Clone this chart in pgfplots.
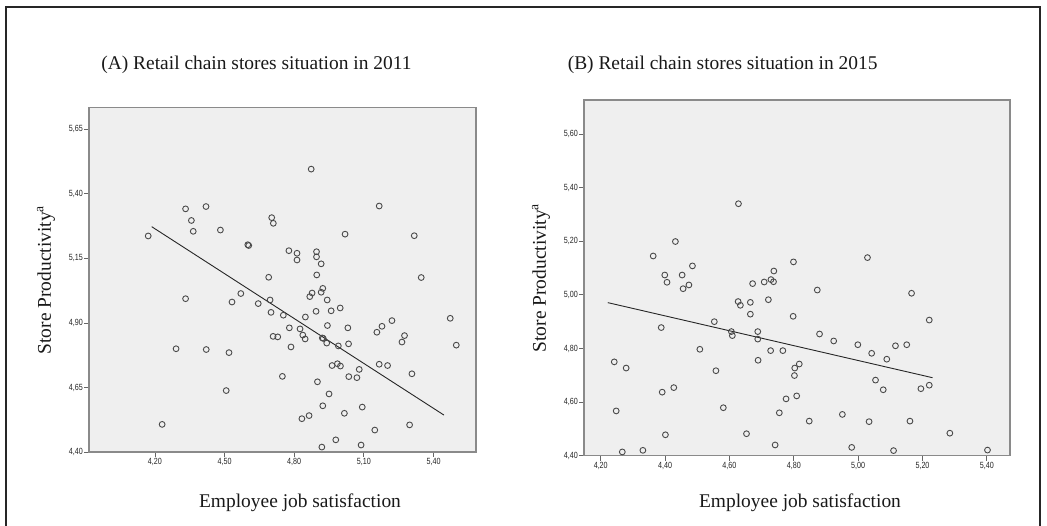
\documentclass[border=0pt]{standalone}
\usepackage{fontspec}
\setmainfont{Liberation Serif}
\newfontfamily\tickfont[FakeStretch=0.8]{Liberation Sans}
\usepackage{pgfplots}
\usepackage{pgfplotstable}
\pgfplotsset{compat=1.18}
\definecolor{bgc}{HTML}{EFEFEF}
\definecolor{framec}{HTML}{8A8A8A}
\definecolor{mk}{HTML}{4A4A4A}

\pgfplotstableread{
x y
4.873 5.496
4.332 5.342
4.420 5.351
4.357 5.297
4.365 5.255
4.482 5.260
4.171 5.237
4.703 5.308
4.710 5.286
4.604 5.200
4.600 5.203
5.166 5.353
5.019 5.244
5.317 5.238
4.777 5.180
4.812 5.170
4.812 5.144
4.896 5.176
4.896 5.156
4.916 5.129
4.897 5.086
4.690 5.077
4.332 4.994
4.570 5.014
4.532 4.981
4.645 4.975
4.696 4.989
4.700 4.941
4.753 4.930
4.867 5.002
4.877 5.016
4.894 4.945
4.848 4.923
4.779 4.881
4.825 4.877
4.837 4.853
4.847 4.838
4.709 4.848
4.729 4.846
4.786 4.807
4.291 4.800
4.421 4.797
4.519 4.785
4.749 4.693
4.900 4.672
4.507 4.638
4.231 4.507
4.833 4.529
4.864 4.541
4.919 4.419
4.916 5.019
4.923 5.034
4.942 4.989
4.959 4.947
4.998 4.958
4.943 4.890
5.031 4.881
4.921 4.842
4.925 4.840
4.940 4.822
4.990 4.811
5.034 4.819
5.156 4.864
5.178 4.887
5.221 4.909
5.264 4.826
5.275 4.851
5.347 5.076
5.472 4.918
5.498 4.814
4.963 4.735
4.986 4.742
4.999 4.733
5.080 4.720
5.035 4.692
5.070 4.688
5.166 4.740
5.202 4.735
5.307 4.703
4.950 4.625
4.923 4.579
5.016 4.550
5.093 4.574
5.297 4.505
5.147 4.485
4.979 4.447
5.088 4.427
}\dataA

\pgfplotstableread{
x y
4.628 5.340
4.432 5.199
4.363 5.145
4.485 5.108
4.399 5.074
4.406 5.047
4.453 5.074
4.474 5.037
4.456 5.023
4.799 5.123
4.738 5.089
4.672 5.042
4.708 5.048
4.729 5.057
4.737 5.049
4.627 4.975
4.634 4.961
4.665 4.972
4.721 4.982
4.665 4.928
4.798 4.920
4.553 4.900
4.388 4.878
4.606 4.863
4.609 4.848
4.688 4.863
4.688 4.835
4.508 4.797
4.728 4.792
4.766 4.792
4.242 4.750
4.279 4.727
4.689 4.756
4.558 4.717
4.803 4.727
4.817 4.742
4.802 4.699
4.391 4.637
4.427 4.654
4.809 4.623
4.776 4.612
4.581 4.579
4.248 4.567
4.755 4.560
4.401 4.478
4.653 4.482
4.742 4.440
4.267 4.414
4.331 4.420
5.029 5.139
4.873 5.018
5.166 5.006
5.221 4.906
4.880 4.854
4.924 4.828
4.999 4.814
5.042 4.782
5.089 4.760
5.116 4.810
5.151 4.814
5.054 4.682
5.078 4.646
5.195 4.650
5.221 4.663
4.848 4.529
4.951 4.554
5.034 4.527
5.161 4.529
5.285 4.484
4.980 4.431
5.110 4.419
5.130 4.399
5.402 4.421
}\dataB

\pgfplotsset{
  spss/.style={
    scale only axis,
    axis background/.style={fill=bgc},
    axis line style={draw=framec, line width=1.4bp},
    tick align=outside,
    xtick pos=bottom, ytick pos=left,
    major tick length=5bp,
    tick style={draw=black!60, line width=0.8bp},
    ticklabel style={font=\tickfont\fontsize{9}{9}\selectfont, text=black!85},
    /pgf/number format/fixed,
    /pgf/number format/fixed zerofill,
    /pgf/number format/precision=2,
    /pgf/number format/use comma,
    /pgf/number format/assume math mode=true,
    xticklabel style={inner sep=1bp},
    yticklabel style={inner sep=1bp},
  },
  dots/.style={only marks, mark=o, mark size=2.9bp, mark options={draw=mk, line width=0.9bp}},
  fitline/.style={no marks, draw=black!85, line width=0.9bp},
}

\begin{document}
\begin{tikzpicture}[x=1bp,y=1bp]
\path[use as bounding box] (0,0) rectangle (1047,526);
\draw[line width=1.3bp, black!85] (6bp,0bp) -- (6bp,519bp) -- (1040bp,519bp) -- (1040bp,0bp);

\node[anchor=base east, font=\fontsize{19.5}{20}\selectfont, text=black!90] at (415bp,456.7bp) {(A) Retail chain stores situation in 2011};
\node[anchor=base east, font=\fontsize{19.5}{20}\selectfont, text=black!90] at (881bp,456.7bp) {(B) Retail chain stores situation in 2015};

\node[font=\fontsize{19.5}{20}\selectfont, text=black!90] at (300bp,23bp) {Employee job satisfaction};
\node[font=\fontsize{19.5}{20}\selectfont, text=black!90] at (800bp,23bp) {Employee job satisfaction};

\node[rotate=90, font=\fontsize{19.5}{20}\selectfont, text=black!90] at (46bp,246bp) {Store Productivity\textsuperscript{a}};
\node[rotate=90, font=\fontsize{19.5}{20}\selectfont, text=black!90] at (541bp,248bp) {Store Productivity\textsuperscript{a}};

\begin{axis}[spss,
  at={(89bp,74bp)}, anchor=south west,
  width=387bp, height=344.3bp,
  xmin=3.916, xmax=5.583, ymin=4.40, ymax=5.734,
  xtick={4.2,4.5,4.8,5.1,5.4},
  ytick={4.4,4.65,4.9,5.15,5.4,5.65}]
  \addplot[dots] table[x=x,y=y] {\dataA};
  \addplot[fitline] coordinates {(4.186,5.273) (5.445,4.543)};
\end{axis}

\begin{axis}[spss,
  at={(584bp,70.3bp)}, anchor=south west,
  width=426bp, height=355.7bp,
  xmin=4.148, xmax=5.472, ymin=4.40, ymax=5.727,
  xtick={4.2,4.4,4.6,4.8,5.0,5.2,5.4},
  ytick={4.4,4.6,4.8,5.0,5.2,5.4,5.6}]
  \addplot[dots] table[x=x,y=y] {\dataB};
  \addplot[fitline] coordinates {(4.222,4.971) (5.231,4.691)};
\end{axis}
\end{tikzpicture}
\end{document}
